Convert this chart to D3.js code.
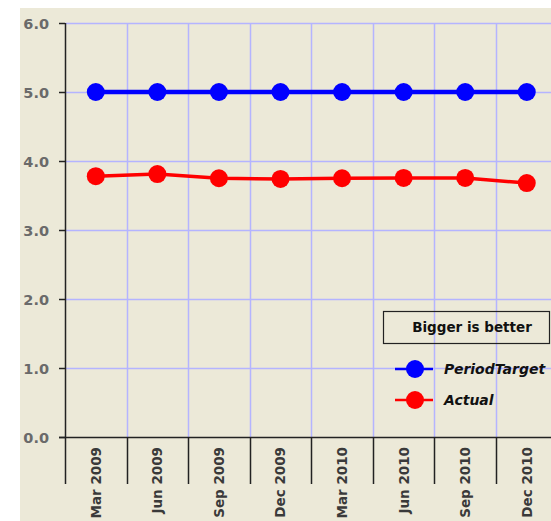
<!DOCTYPE html>
<html>
<head>
<meta charset="utf-8">
<script src="https://cdn.jsdelivr.net/npm/d3@7"></script>
<style>
  body { margin: 0; background: #fff; }
  svg { display: block; }
</style>
</head>
<body>
<div id="chart"></div>
<script>
// chart values
var periods = ["Mar 2009", "Jun 2009", "Sep 2009", "Dec 2009", "Mar 2010", "Jun 2010", "Sep 2010", "Dec 2010"]
var periodTarget = [5.0, 5.0, 5.0, 5.0, 5.0, 5.0, 5.0, 5.0]
var actual = [3.78, 3.81, 3.75, 3.74, 3.75, 3.755, 3.755, 3.68]
var yTicks = [0, 1, 2, 3, 4, 5, 6]
var legendTitle = "Bigger is better"
var seriesNames = ["PeriodTarget", "Actual"]

var width = 551, height = 521
var plotLeft = 65, plotTop = 23, plotBottom = 437
var bandW = 61.57

var svg = d3.select("#chart").append("svg")
  .attr("width", width)
  .attr("height", height)

svg.append("rect")
  .attr("x", 20).attr("y", 8)
  .attr("width", width - 20).attr("height", height - 8)
  .attr("fill", "#ece9d8")

var x = d3.scaleBand()
  .domain(periods)
  .range([plotLeft, plotLeft + bandW * periods.length])

var y = d3.scaleLinear()
  .domain([0, 6])
  .range([plotBottom, plotTop])

// grid
var grid = svg.append("g").attr("class", "grid")
grid.selectAll("line.h")
  .data(yTicks.filter(function(d) { return d > 0 }))
  .enter().append("line")
  .attr("class", "h")
  .attr("x1", plotLeft).attr("x2", width)
  .attr("y1", function(d) { return Math.round(y(d)) + 0.5 })
  .attr("y2", function(d) { return Math.round(y(d)) + 0.5 })
  .attr("stroke", "#b4b4ff").attr("stroke-width", 1.5)

grid.selectAll("line.v")
  .data(periods.slice(1))
  .enter().append("line")
  .attr("class", "v")
  .attr("x1", function(d) { return Math.round(x(d)) + 0.5 })
  .attr("x2", function(d) { return Math.round(x(d)) + 0.5 })
  .attr("y1", plotTop).attr("y2", plotBottom)
  .attr("stroke", "#b4b4ff").attr("stroke-width", 1.5)

// y axis
var yAxis = svg.append("g")
yAxis.append("line")
  .attr("x1", plotLeft + 0.5).attr("x2", plotLeft + 0.5)
  .attr("y1", plotTop).attr("y2", 484)
  .attr("stroke", "#222").attr("stroke-width", 1.5)
yAxis.selectAll("line.tick")
  .data(yTicks)
  .enter().append("line")
  .attr("class", "tick")
  .attr("x1", 59).attr("x2", plotLeft)
  .attr("y1", function(d) { return Math.round(y(d)) + 0.5 })
  .attr("y2", function(d) { return Math.round(y(d)) + 0.5 })
  .attr("stroke", "#222").attr("stroke-width", 1.5)
yAxis.selectAll("text")
  .data(yTicks)
  .enter().append("text")
  .attr("x", 49)
  .attr("y", function(d) { return y(d) + 5.5 })
  .attr("text-anchor", "end")
  .attr("font-family", "DejaVu Sans")
  .attr("font-weight", "bold")
  .attr("font-size", 14.5)
  .attr("fill", "#6a6a6a")
  .text(function(d) { return d3.format(".1f")(d) })

// x axis
var xAxis = svg.append("g")
xAxis.append("line")
  .attr("x1", 59).attr("x2", width)
  .attr("y1", plotBottom + 0.5).attr("y2", plotBottom + 0.5)
  .attr("stroke", "#222").attr("stroke-width", 1.5)
xAxis.selectAll("line.tick")
  .data(periods.slice(1))
  .enter().append("line")
  .attr("class", "tick")
  .attr("x1", function(d) { return Math.round(x(d)) + 0.5 })
  .attr("x2", function(d) { return Math.round(x(d)) + 0.5 })
  .attr("y1", plotBottom).attr("y2", 484)
  .attr("stroke", "#222").attr("stroke-width", 1.5)
xAxis.selectAll("text")
  .data(periods)
  .enter().append("text")
  .attr("transform", function(d) {
    return "translate(" + (x(d) + x.bandwidth() / 2 + 5) + ",447) rotate(-90)"
  })
  .attr("text-anchor", "end")
  .attr("font-family", "DejaVu Sans")
  .attr("font-weight", "bold")
  .attr("font-size", 13.5)
  .attr("fill", "#3a3a3a")
  .text(function(d) { return d })

// series
var cx = function(d, i) { return x(periods[i]) + x.bandwidth() / 2 }
var line = d3.line()
  .x(function(d, i) { return cx(d, i) })
  .y(function(d) { return y(d) })

var series = [
  { name: seriesNames[0], values: periodTarget, color: "#0000ff", w: 4.5 },
  { name: seriesNames[1], values: actual, color: "#ff0000", w: 3.5 }
]

series.forEach(function(s) {
  svg.append("path")
    .datum(s.values)
    .attr("d", line)
    .attr("fill", "none")
    .attr("stroke", s.color)
    .attr("stroke-width", s.w)
  svg.append("g").selectAll("circle")
    .data(s.values)
    .enter().append("circle")
    .attr("cx", cx)
    .attr("cy", function(d) { return y(d) })
    .attr("r", 9)
    .attr("fill", s.color)
})

// legend
var legend = svg.append("g")
legend.append("rect")
  .attr("x", 383.5).attr("y", 311.5)
  .attr("width", 166).attr("height", 32)
  .attr("fill", "none")
  .attr("stroke", "#222").attr("stroke-width", 1.2)
legend.append("text")
  .attr("x", 472).attr("y", 332)
  .attr("text-anchor", "middle")
  .attr("font-family", "DejaVu Sans")
  .attr("font-weight", "bold")
  .attr("font-size", 13.5)
  .attr("fill", "#111")
  .text(legendTitle)

var items = legend.selectAll("g.item")
  .data(series)
  .enter().append("g")
  .attr("class", "item")
  .attr("transform", function(d, i) { return "translate(0," + (369 + i * 31) + ")" })
items.append("line")
  .attr("x1", 395).attr("x2", 433)
  .attr("stroke", function(d) { return d.color })
  .attr("stroke-width", 2.5)
items.append("circle")
  .attr("cx", 415).attr("r", 9)
  .attr("fill", function(d) { return d.color })
items.append("text")
  .attr("x", 444).attr("y", 5)
  .attr("font-family", "DejaVu Sans")
  .attr("font-weight", "bold")
  .attr("font-style", "italic")
  .attr("font-size", 14)
  .attr("fill", "#111")
  .text(function(d) { return d.name })
</script>
</body>
</html>
